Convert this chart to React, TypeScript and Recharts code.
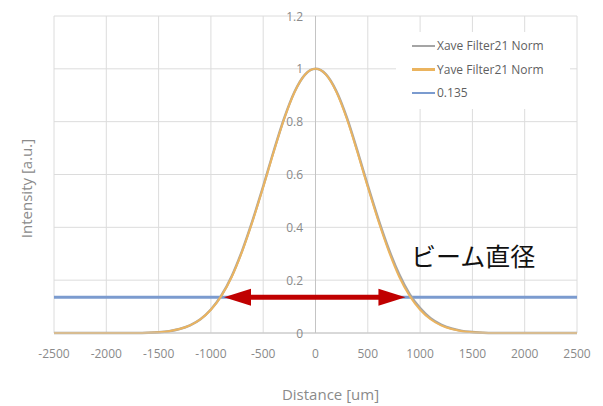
import React from "react";
import {
  LineChart, Line, XAxis, YAxis, CartesianGrid, ReferenceLine, Legend,
} from "recharts";

const DISTANCE = [
  -2500, -2400, -2300, -2200, -2100, -2000, -1900, -1800, -1700, -1600, -1500,
  -1400, -1300, -1200, -1100, -1000, -900, -800, -700, -600, -500, -400, -300,
  -200, -100, 0, 100, 200, 300, 400, 500, 600, 700, 800, 900, 1000, 1100, 1200,
  1300, 1400, 1500, 1600, 1700, 1800, 1900, 2000, 2100, 2200, 2300, 2400, 2500,
];

const XAVE = [
  0, 0, 0, 0, 0, 0, 0, 0, 0, 0.001, 0.003,
  0.007, 0.015, 0.029, 0.052, 0.089, 0.142, 0.216, 0.313, 0.428, 0.555, 0.688, 0.812,
  0.913, 0.978, 1, 0.979, 0.915, 0.815, 0.69, 0.558, 0.432, 0.318, 0.222, 0.147, 0.094, 0.056, 0.032,
  0.017, 0.008, 0.004, 0.001, 0, 0, 0, 0, 0, 0, 0, 0, 0,
];

const YAVE = [
  0, 0, 0, 0, 0, 0, 0, 0, 0, 0.001, 0.003,
  0.007, 0.015, 0.029, 0.052, 0.088, 0.14, 0.213, 0.31, 0.425, 0.552, 0.685, 0.81,
  0.912, 0.978, 1, 0.978, 0.912, 0.81, 0.685, 0.552, 0.425, 0.31, 0.213, 0.14, 0.088, 0.052, 0.029,
  0.015, 0.007, 0.003, 0.001, 0, 0, 0, 0, 0, 0, 0, 0, 0,
];

const THRESHOLD = 0.135;
const BEAM_EDGES = [-875, 860];

const X_TICKS = [-2500, -2000, -1500, -1000, -500, 0, 500, 1000, 1500, 2000, 2500];
const Y_TICKS = [0, 0.2, 0.4, 0.6, 0.8, 1, 1.2];

const SERIES = [
  { key: "xave", name: "Xave Filter21 Norm", color: "#a5a5a5" },
  { key: "yave", name: "Yave Filter21 Norm", color: "#ebb45f" },
  { key: "th", name: "0.135", color: "#7b9bcf" },
];

const data = DISTANCE.map((d, i) => ({ d, xave: XAVE[i], yave: YAVE[i] }));

const FONT = "'Open Sans', sans-serif";
const GRAY_TEXT = "#8a8a8a";

// y labels sit next to the x=0 axis, not on the left edge
const YTick = ({ x, y, payload }: any) => (
  <text x={x + 249} y={y} textAnchor="end" dominantBaseline="central"
    fontSize={12} fill={GRAY_TEXT} fontFamily={FONT}>
    {payload.value}
  </text>
);

const YLabel = ({ viewBox }: any) => (
  <text
    x={viewBox.x + 26}
    y={viewBox.y + viewBox.height / 2 + 14}
    transform={`rotate(-90 ${viewBox.x + 26} ${viewBox.y + viewBox.height / 2 + 14})`}
    textAnchor="middle" dominantBaseline="central"
    fontSize={15} fill={GRAY_TEXT} fontFamily={FONT}>
    Intensity [a.u.]
  </text>
);

const XLabel = ({ viewBox }: any) => (
  <text x={viewBox.x + viewBox.width / 2 + 15} y={viewBox.y + viewBox.height - 6}
    textAnchor="middle" fontSize={15} fill={GRAY_TEXT} fontFamily={FONT}>
    Distance [um]
  </text>
);

const Arrow = ({ x1, y1, x2, y2 }: any) => {
  const head = 27;
  const half = 8.5;
  return (
    <g>
      <line x1={x1 + head - 2} y1={y1} x2={x2 - head + 2} y2={y2} stroke="#c00000" strokeWidth={5} />
      <polygon points={`${x1},${y1} ${x1 + head},${y1 - half} ${x1 + head},${y1 + half}`} fill="#c00000" />
      <polygon points={`${x2},${y2} ${x2 - head},${y2 - half} ${x2 - head},${y2 + half}`} fill="#c00000" />
    </g>
  );
};

const LegendBox = () => (
  <div style={{ background: "#fff", padding: "2px 0 4px 16px", fontFamily: FONT }}>
    {SERIES.map((s) => (
      <div key={s.key} style={{ display: "flex", alignItems: "center", height: 23.5 }}>
        <span style={{ display: "inline-block", width: 23, height: 2.5, background: s.color, marginRight: 2 }} />
        <span style={{ fontSize: 12, color: "#5f5f5f", whiteSpace: "nowrap" }}>{s.name}</span>
      </div>
    ))}
  </div>
);

export default function App() {
  return (
    <div style={{ position: "absolute", left: 0, top: 0, width: 603, height: 406, background: "#fff" }}>
      <LineChart width={603} height={406} data={data} margin={{ top: 16, right: 26, bottom: 0, left: 0 }}>
        <CartesianGrid stroke="#dcdcdc" strokeWidth={1} />
        <XAxis dataKey="d" type="number" domain={[-2500, 2500]} ticks={X_TICKS}
          height={73} tickLine={false} tickSize={0} tickMargin={16}
          axisLine={{ stroke: "#c4c4c4" }}
          tick={{ fontSize: 12, fill: GRAY_TEXT, fontFamily: FONT }}
          label={<XLabel />} />
        <YAxis type="number" domain={[0, 1.2]} ticks={Y_TICKS} width={54}
          axisLine={false} tickLine={false} tickSize={0} tickMargin={0}
          tick={<YTick />} label={<YLabel />} />
        <ReferenceLine x={0} stroke="#c4c4c4" />
        <ReferenceLine y={THRESHOLD} stroke="#7b9bcf" strokeWidth={3} />
        <Line dataKey="xave" name="Xave Filter21 Norm" stroke="#a5a5a5" strokeWidth={2.5}
          dot={false} type="monotone" isAnimationActive={false} />
        <Line dataKey="yave" name="Yave Filter21 Norm" stroke="#ebb45f" strokeWidth={2}
          dot={false} type="monotone" isAnimationActive={false} />
        <ReferenceLine
          segment={[{ x: BEAM_EDGES[0], y: THRESHOLD }, { x: BEAM_EDGES[1], y: THRESHOLD }]}
          shape={<Arrow />} />
        <Legend content={<LegendBox />} layout="horizontal" verticalAlign="middle"
          wrapperStyle={{ position: "absolute", top: 32, left: 396, width: 174, height: "auto" }} />
      </LineChart>
      <div style={{
        position: "absolute", left: 411, top: 237, fontSize: 25, color: "#111",
        fontFamily: "'Noto Sans CJK JP', sans-serif", whiteSpace: "nowrap",
      }}>
        ビーム直径
      </div>
    </div>
  );
}
